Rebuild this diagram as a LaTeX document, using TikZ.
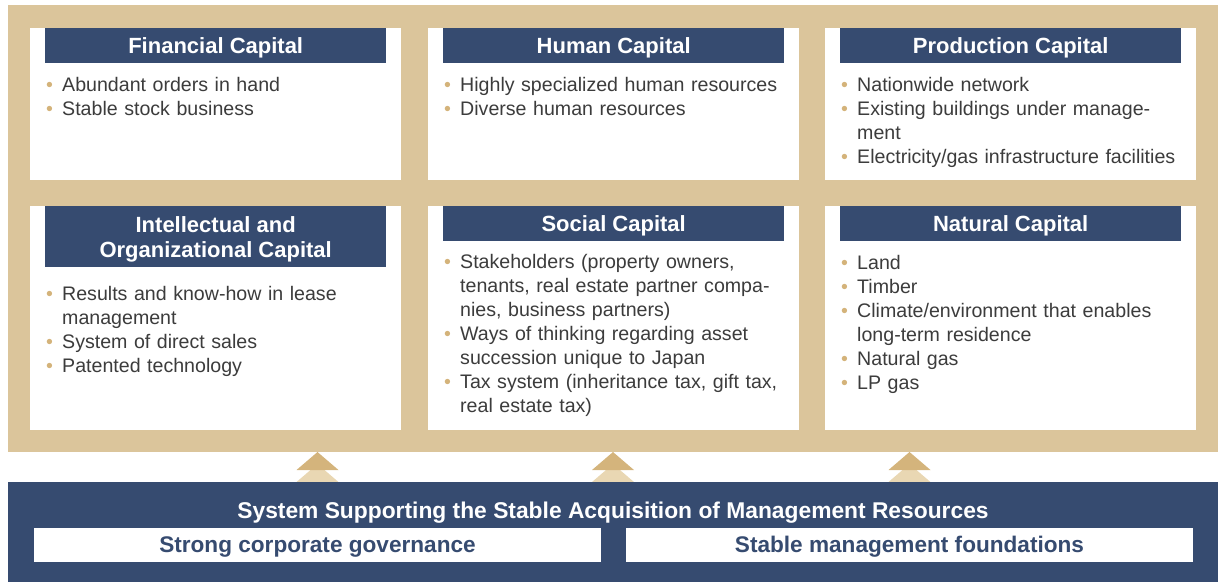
\documentclass[tikz,border=0pt]{standalone}
\usepackage{fontspec}
\setmainfont{Liberation Sans}
\usetikzlibrary{positioning}

\definecolor{capframe}{HTML}{DBC59B}
\definecolor{capnavy}{HTML}{364B70}
\definecolor{capdot}{HTML}{D4B37A}
\definecolor{captext}{HTML}{3C3C3C}
\definecolor{arrowdark}{HTML}{D4B47C}
\definecolor{arrowlight}{HTML}{E9D7B3}

% one bullet of a list, later lines hang under the text
\newcommand\bitem[1]{\par\hangindent=16pt\hangafter=1\noindent
  \makebox[16pt][l]{\textcolor{capdot}{\textbullet}}#1\par}

\tikzset{
  capbox/.style={fill=white, anchor=north west, minimum width=371pt, inner sep=0pt},
  capbar/.style={fill=capnavy, text=white, anchor=north west, inner sep=0pt,
    minimum width=341pt, minimum height=35pt, align=center,
    font=\fontsize{22}{25.3}\selectfont\bfseries},
  captitle/.style={capbar, text height=16pt, text depth=0pt},
  % the list box starts with a colour special, so its base sits one line above the first baseline
  capitems/.style={text=captext, anchor=base west, inner sep=0pt, text width=350pt,
    align=left, font=\fontsize{19.6}{24}\selectfont},
  systitle/.style={text=white, anchor=base, inner sep=0pt,
    font=\fontsize{22.8}{26}\selectfont\bfseries},
  sysbox/.style={fill=white, text=capnavy, inner sep=0pt, minimum width=567pt,
    minimum height=34pt, text height=14pt, text depth=0pt,
    font=\fontsize{22.6}{26}\selectfont\bfseries},
}

\begin{document}
\begin{tikzpicture}[x=1pt,y=-1pt]
  \useasboundingbox (0,0) rectangle (1218,582);
  % tan frame
  \fill[capframe] (8,5) rectangle (1218,452);
  % white boxes, top row
  \node[capbox, minimum height=152pt] (fin) at (30,28) {};
  \node[capbox, minimum height=152pt] (hum) at (428,28) {};
  \node[capbox, minimum height=152pt] (pro) at (825,28) {};
  % white boxes, bottom row
  \node[capbox, minimum height=224pt] (int) at (30,206) {};
  \node[capbox, minimum height=224pt] (soc) at (428,206) {};
  \node[capbox, minimum height=224pt] (nat) at (825,206) {};
  % title bars
  \node[captitle] (fint) at ([xshift=15pt]fin.north west) {Financial Capital};
  \node[captitle] (humt) at ([xshift=15pt]hum.north west) {Human Capital};
  \node[captitle] (prot) at ([xshift=15pt]pro.north west) {Production Capital};
  \node[capbar, minimum height=61pt, text depth=0pt] (intt) at ([xshift=15pt]int.north west)
    {Intellectual and\\Organizational Capital};
  \node[captitle] (soct) at ([xshift=15pt]soc.north west) {Social Capital};
  \node[captitle] (natt) at ([xshift=15pt]nat.north west) {Natural Capital};
  % lists
  \node[capitems] (fini) at ([xshift=1pt,yshift=-4.5pt]fint.south west)
    {\bitem{Abundant orders in hand}
     \bitem{Stable stock business}};
  \node[capitems] (humi) at ([xshift=1pt,yshift=-4.5pt]humt.south west)
    {\bitem{Highly specialized human resources}
     \bitem{Diverse human resources}};
  \node[capitems] (proi) at ([xshift=1pt,yshift=-4.5pt]prot.south west)
    {\bitem{Nationwide network}
     \bitem{Existing buildings under manage-\newline ment}
     \bitem{Electricity/gas infrastructure facilities}};
  \node[capitems] (inti) at ([xshift=1pt,yshift=-9pt]intt.south west)
    {\bitem{Results and know-how in lease\newline management}
     \bitem{System of direct sales}
     \bitem{Patented technology}};
  \node[capitems] (soci) at ([xshift=1pt,yshift=-3.5pt]soct.south west)
    {\bitem{Stakeholders (property owners,\newline tenants, real estate partner compa-\newline nies, business partners)}
     \bitem{Ways of thinking regarding asset\newline succession unique to Japan}
     \bitem{Tax system (inheritance tax, gift tax,\newline real estate tax)}};
  \node[capitems] (nati) at ([xshift=1pt,yshift=-4pt]natt.south west)
    {\bitem{Land}
     \bitem{Timber}
     \bitem{Climate/environment that enables\newline long-term residence}
     \bitem{Natural gas}
     \bitem{LP gas}};
  % arrows up into the frame
  \foreach \ax in {317.5,613,909.5}{
    \fill[arrowlight] (\ax-21,482) -- (\ax,464) -- (\ax+21,482) -- cycle;
    \fill[arrowdark] (\ax-21,470) -- (\ax,452) -- (\ax+21,470) -- cycle;
  }
  % supporting system
  \fill[capnavy] (8,482) rectangle (1218,582);
  \node[systitle] (sys) at (613,518)
    {System Supporting the Stable Acquisition of Management Resources};
  \node[sysbox] (gov) at (317.5,545) {Strong corporate governance};
  \node[sysbox] (fou) at (909.5,545) {Stable management foundations};
\end{tikzpicture}
\end{document}
